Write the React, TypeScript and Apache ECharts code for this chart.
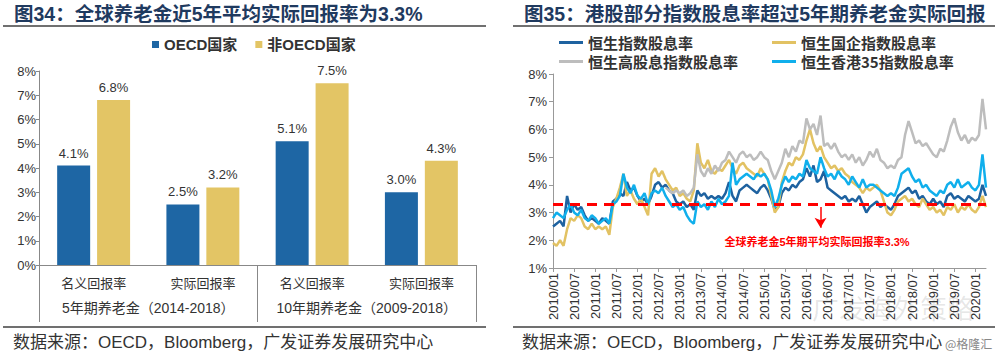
import React, { useEffect, useRef } from 'react';
import * as echarts from 'echarts';

const SANS = '"Liberation Sans", Arial, "Noto Sans CJK SC", sans-serif';
const CJK = '"Noto Sans CJK SC", sans-serif';

// ---- Left chart data ----
const barCategories = ['名义回报率', '实际回报率', '名义回报率', '实际回报率'];
const barGroups = ['5年期养老金（2014-2018）', '10年期养老金（2009-2018）'];
const oecdValues = [4.1, 2.5, 5.1, 3.0];
const nonOecdValues = [6.8, 3.2, 7.5, 4.3];

// ---- Right chart data (monthly, 2010/01 - 2020/04) ----
const months: string[] = [];
for (let y = 2010; y <= 2020; y++) {
  for (let m = 1; m <= 12; m++) {
    if (months.length < 124) months.push(`${y}/${String(m).padStart(2, '0')}`);
  }
}

const hsiYield = [
  2.5, 2.6, 2.7, 2.5, 3.6, 3.0, 3.3, 3.1, 3.2, 2.9, 2.7, 2.8,
  2.7, 2.6, 2.8, 2.7, 2.6, 3.4, 3.5, 3.7, 3.6, 4.1, 3.8, 3.9,
  3.6, 3.4, 3.5, 3.3, 3.6, 4.0, 4.1, 3.9, 4.0, 3.8, 3.7, 3.4,
  3.3, 3.4, 3.2, 3.3, 3.1, 3.8, 3.6, 3.7, 3.5, 3.6, 3.5, 3.6,
  3.5, 3.7, 4.1, 3.6, 3.4, 3.8, 3.9, 4.0, 3.9, 3.8, 3.7, 3.9,
  4.0, 3.8, 3.5, 3.1, 3.2, 3.7, 3.9, 3.8, 4.0, 3.9, 4.1, 4.2,
  4.6, 4.3, 4.7, 4.1, 4.2, 4.5, 3.9, 3.8, 3.7, 3.6, 3.5, 3.6,
  3.4, 3.5, 3.4, 3.6, 3.3, 3.0, 3.2, 3.3, 3.4, 3.2, 3.3, 3.2,
  3.1, 3.3, 3.6, 3.7, 3.8, 3.9, 3.7, 3.8, 3.5, 3.6, 3.4, 3.3,
  3.5, 3.3, 3.4, 3.2, 3.6, 3.7, 3.5, 3.6, 3.5, 3.4, 3.6, 3.5,
  3.4, 3.5, 4.0, 3.6,
];

const hsceiYield = [
  1.9, 1.8, 2.0, 1.8, 2.4, 2.8, 2.7, 2.9, 2.8, 2.5, 2.4, 2.6,
  2.4, 2.5, 2.4, 2.5, 2.2, 3.2, 3.5, 3.9, 4.4, 3.6, 3.8, 3.5,
  3.3, 3.5, 3.2, 2.9, 4.4, 4.6, 4.3, 4.5, 4.2, 4.0, 3.8, 3.9,
  3.6, 3.7, 3.5, 3.4, 3.8, 5.5, 4.8, 4.6, 4.9, 4.5, 4.4, 4.6,
  4.5, 4.7, 4.9, 4.6, 4.4, 4.7, 4.8, 4.6, 4.5, 4.4, 4.3, 4.6,
  4.4, 4.2, 3.6, 3.0, 3.2, 4.1, 4.5, 4.8, 4.7, 5.0, 4.9, 5.1,
  5.6, 6.0, 5.5, 5.2, 5.4, 5.0, 4.8, 4.6, 4.7, 4.5, 4.6, 4.4,
  4.3, 4.1, 4.0, 3.9, 3.7, 3.9, 3.8, 3.9, 4.0, 3.8, 3.4, 3.0,
  2.9, 3.1, 3.4, 3.5, 3.6, 3.4, 3.5, 3.3, 3.2, 3.5, 3.3, 3.1,
  3.2, 3.0, 3.1, 2.9, 3.2, 3.1, 3.3, 3.0, 3.2, 3.1, 3.3, 3.1,
  3.0, 3.2, 3.6, 3.2,
];

const hshdyiYield = [
  null, null, null, null, null, null, null, null, null, null, null, null,
  null, null, null, null, null, null, null, null, null, null, null, null,
  null, null, null, null, null, null, null, null, 3.9, 3.8, 3.7, 3.8,
  3.7, 3.8, 3.6, 3.7, 3.9, 5.1, 4.5, 4.3, 4.6, 4.4, 4.7, 4.5,
  4.8, 4.9, 5.2, 5.0, 4.8, 5.1, 5.2, 5.0, 5.1, 4.9, 5.0, 5.2,
  5.0, 4.9, 4.5, 4.2, 4.5, 4.8, 5.3, 5.0, 5.4, 5.2, 5.6, 5.5,
  6.4, 6.0, 6.2, 5.8, 6.5, 5.4, 5.5, 5.3, 5.5, 5.2, 5.0, 5.1,
  4.9, 5.1, 4.8, 5.0, 4.7, 4.9, 5.2, 5.0, 5.3, 4.9, 4.8, 4.6,
  4.7, 4.6, 4.9, 5.0, 5.8, 6.3, 5.9, 5.5, 5.6, 5.4, 5.5, 5.3,
  5.1, 5.0, 5.3, 5.2, 5.6, 6.1, 6.4, 5.9, 5.6, 5.8, 5.5, 5.7,
  5.6, 5.8, 7.1, 6.0,
];

const hk35Yield = [
  2.8, 3.0, 2.9, 2.8, 3.1, 3.3, 3.0, 2.9, 3.1, 2.8, 2.7, 2.9,
  2.8, 2.6, 2.7, 2.8, 2.6, 3.3, 3.4, 3.6, 4.4, 3.9, 3.7, 4.0,
  3.6, 3.5, 3.7, 3.3, 3.7, 3.8, 3.7, 3.9, 3.6, 3.4, 3.2, 3.3,
  3.1, 3.2, 2.9, 2.7, 2.6, 3.4, 3.2, 3.3, 3.1, 3.4, 3.2, 3.5,
  3.3, 3.4, 3.6, 4.8, 4.0, 4.2, 4.3, 4.4, 4.3, 4.2, 4.4, 4.3,
  4.4, 4.2, 3.8, 3.2, 3.5, 4.0, 4.3, 4.1, 4.3, 4.2, 4.4, 4.3,
  4.9, 4.6, 4.5, 4.4, 5.0, 4.6, 4.3, 4.4, 4.2, 4.5, 4.3, 4.2,
  4.0, 4.3, 4.1, 3.9, 4.2, 3.9, 4.0, 4.0, 3.9, 3.8, 3.7, 3.6,
  3.7, 3.6, 3.9, 4.4, 4.5, 4.6, 4.3, 4.1, 4.2, 3.9, 4.0, 3.8,
  3.7, 3.6, 3.8, 3.7, 4.0, 4.1, 3.9, 4.2, 3.9, 4.0, 4.1, 3.9,
  3.8, 4.0, 5.1, 3.9,
];

const pensionReal = 3.3;
const arrowMonth = '2016/05';
const arrowFrom = 3.2;
const arrowTo = 2.45;
const noteMonth = '2016/04';
const noteValue = 1.95;
const noteText = '全球养老金5年期平均实际回报率3.3%';

export default function App() {
  const ref = useRef<HTMLDivElement>(null);

  useEffect(() => {
    if (!ref.current) return;
    const chart = echarts.init(ref.current, null, { renderer: 'svg' });

    const axisText = { fontFamily: SANS, fontSize: 13, color: '#333' };
    const lineSeries = (name: string, data: any[], color: string, extra: any = {}) => ({
      type: 'line',
      name,
      xAxisIndex: 2,
      yAxisIndex: 1,
      data,
      showSymbol: false,
      symbol: 'none',
      lineStyle: { color, width: 2.5 },
      itemStyle: { color },
      ...extra,
    });

    const option: any = {
      animation: false,
      backgroundColor: '#ffffff',
      title: [
        {
          text: '图34：全球养老金近5年平均实际回报率为3.3%',
          left: 14, top: 4, padding: 0,
          textStyle: { fontFamily: SANS, fontSize: 19.5, fontWeight: 'bold', color: '#1F3A5F' },
        },
        {
          text: '图35：港股部分指数股息率超过5年期养老金实际回报',
          left: 524, top: 4, padding: 0,
          textStyle: { fontFamily: SANS, fontSize: 19.5, fontWeight: 'bold', color: '#1F3A5F' },
        },
        {
          text: '数据来源：OECD，Bloomberg，广发证券发展研究中心',
          left: 13, top: 334, padding: 0,
          textStyle: { fontFamily: SANS, fontSize: 17, fontWeight: 'normal', color: '#333' },
        },
        {
          text: '数据来源：OECD，Bloomberg，广发证券发展研究中心',
          left: 522, top: 334, padding: 0,
          textStyle: { fontFamily: SANS, fontSize: 17, fontWeight: 'normal', color: '#333' },
        },
        {
          text: '@格隆汇',
          left: 945, top: 337, padding: 0,
          textStyle: { fontFamily: CJK, fontSize: 12, fontWeight: 'normal', color: '#888' },
        },
      ],
      legend: [
        {
          data: ['OECD国家', '非OECD国家'],
          left: 152, top: 37, padding: 0, itemGap: 18,
          icon: 'rect', itemWidth: 7, itemHeight: 7,
          textStyle: { fontFamily: SANS, fontSize: 15, fontWeight: 'bold', color: '#333' },
        },
        {
          data: ['恒生指数股息率'], left: 559, top: 35, padding: 0,
          icon: 'rect', itemWidth: 24, itemHeight: 3,
          textStyle: { fontFamily: CJK, fontSize: 15, fontWeight: 'bold', color: '#333' },
        },
        {
          data: ['恒生国企指数股息率'], left: 772, top: 35, padding: 0,
          icon: 'rect', itemWidth: 24, itemHeight: 3,
          textStyle: { fontFamily: CJK, fontSize: 15, fontWeight: 'bold', color: '#333' },
        },
        {
          data: ['恒生高股息指数股息率'], left: 559, top: 54, padding: 0,
          icon: 'rect', itemWidth: 24, itemHeight: 3,
          textStyle: { fontFamily: CJK, fontSize: 15, fontWeight: 'bold', color: '#333' },
        },
        {
          data: ['恒生香港35指数股息率'], left: 772, top: 54, padding: 0,
          icon: 'rect', itemWidth: 24, itemHeight: 3,
          textStyle: { fontFamily: CJK, fontSize: 15, fontWeight: 'bold', color: '#333' },
        },
      ],
      grid: [
        { left: 39, right: 524, top: 71, bottom: 92 },
        { left: 553, right: 14, top: 74, bottom: 89 },
      ],
      xAxis: [
        {
          type: 'category', gridIndex: 0, position: 'bottom', data: barCategories,
          axisLine: { lineStyle: { color: '#888', width: 1 } },
          axisTick: { show: false },
          axisLabel: { interval: 0, margin: 11, fontFamily: CJK, fontSize: 13, color: '#333' },
        },
        {
          type: 'category', gridIndex: 0, position: 'bottom', data: barGroups,
          axisLine: { show: false },
          axisTick: { show: true, interval: 0, length: 57, lineStyle: { color: '#888' } },
          axisLabel: { interval: 0, hideOverlap: false, margin: 36, fontFamily: SANS, fontSize: 14, color: '#333' },
        },
        {
          type: 'category', gridIndex: 1, data: months, boundaryGap: false,
          axisLine: { lineStyle: { color: '#999', width: 1 } },
          axisTick: { show: true, interval: 5, length: 4, lineStyle: { color: '#999' } },
          axisLabel: { interval: 5, rotate: 90, margin: 5, ...axisText },
        },
      ],
      yAxis: [
        {
          type: 'value', gridIndex: 0, min: 0, max: 8, interval: 1,
          axisLine: { show: true, lineStyle: { color: '#888' } },
          axisTick: { show: true, length: 3, lineStyle: { color: '#888' } },
          splitLine: { show: false },
          axisLabel: { formatter: '{value}%', margin: 3, ...axisText },
        },
        {
          type: 'value', gridIndex: 1, min: 1, max: 8, interval: 1,
          axisLine: { show: true, lineStyle: { color: '#999' } },
          axisTick: { show: true, length: 4, lineStyle: { color: '#999' } },
          splitLine: { show: false },
          axisLabel: { formatter: '{value}%', margin: 6, ...axisText },
        },
      ],
      series: [
        {
          type: 'bar', name: 'OECD国家', xAxisIndex: 0, yAxisIndex: 0,
          data: oecdValues, barWidth: 33, barGap: '21%',
          itemStyle: { color: '#1E66A4' },
          label: {
            show: true, position: 'top', distance: 6,
            formatter: (p: any) => Number(p.value).toFixed(1) + '%',
            ...axisText,
          },
        },
        {
          type: 'bar', name: '非OECD国家', xAxisIndex: 0, yAxisIndex: 0,
          data: nonOecdValues, barWidth: 33, barGap: '21%',
          itemStyle: { color: '#E3C565' },
          label: {
            show: true, position: 'top', distance: 6,
            formatter: (p: any) => Number(p.value).toFixed(1) + '%',
            ...axisText,
          },
        },
        lineSeries('恒生指数股息率', hsiYield, '#1E62A0'),
        lineSeries('恒生国企指数股息率', hsceiYield, '#E2C263'),
        lineSeries('恒生高股息指数股息率', hshdyiYield, '#BDBDBD'),
        lineSeries('恒生香港35指数股息率', hk35Yield, '#10AFEC', {
          markLine: {
            silent: true,
            symbol: ['none', 'none'],
            label: { show: false },
            data: [
              { yAxis: pensionReal, lineStyle: { color: '#FF0000', width: 3, type: [10, 7] } },
              [
                { coord: [arrowMonth, arrowFrom], symbol: 'none', lineStyle: { color: '#FF0000', width: 1.5, type: 'solid' } },
                { coord: [arrowMonth, arrowTo], symbol: 'arrow', symbolSize: [9, 10] },
              ],
            ],
          },
          markPoint: {
            silent: true,
            symbol: 'rect',
            symbolSize: 1,
            itemStyle: { color: 'rgba(0,0,0,0)' },
            data: [
              {
                coord: [noteMonth, noteValue],
                label: {
                  show: true, position: 'inside', formatter: noteText,
                  color: '#FF0000', fontFamily: SANS, fontSize: 11, fontWeight: 'bold',
                },
              },
            ],
          },
        }),
      ],
      graphic: [
        { type: 'line', shape: { x1: 3, y1: 26, x2: 486, y2: 26 }, style: { stroke: '#404040', lineWidth: 1.5 } },
        { type: 'line', shape: { x1: 513, y1: 26, x2: 995, y2: 26 }, style: { stroke: '#404040', lineWidth: 1.5 } },
        { type: 'line', shape: { x1: 3, y1: 327, x2: 486, y2: 327 }, style: { stroke: '#404040', lineWidth: 1.5 } },
        { type: 'line', shape: { x1: 513, y1: 327, x2: 995, y2: 327 }, style: { stroke: '#404040', lineWidth: 1.5 } },
        {
          type: 'text', left: 812, top: 294, silent: true,
          style: { text: '广发海外策略', fontSize: 27, fontFamily: CJK, fill: 'rgba(0,0,0,0.10)' },
        },
      ],
    };

    chart.setOption(option);
    return () => chart.dispose();
  }, []);

  return (
    <div
      ref={ref}
      style={{ position: 'absolute', left: 0, top: 0, width: 1000, height: 357, background: '#fff' }}
    />
  );
}
